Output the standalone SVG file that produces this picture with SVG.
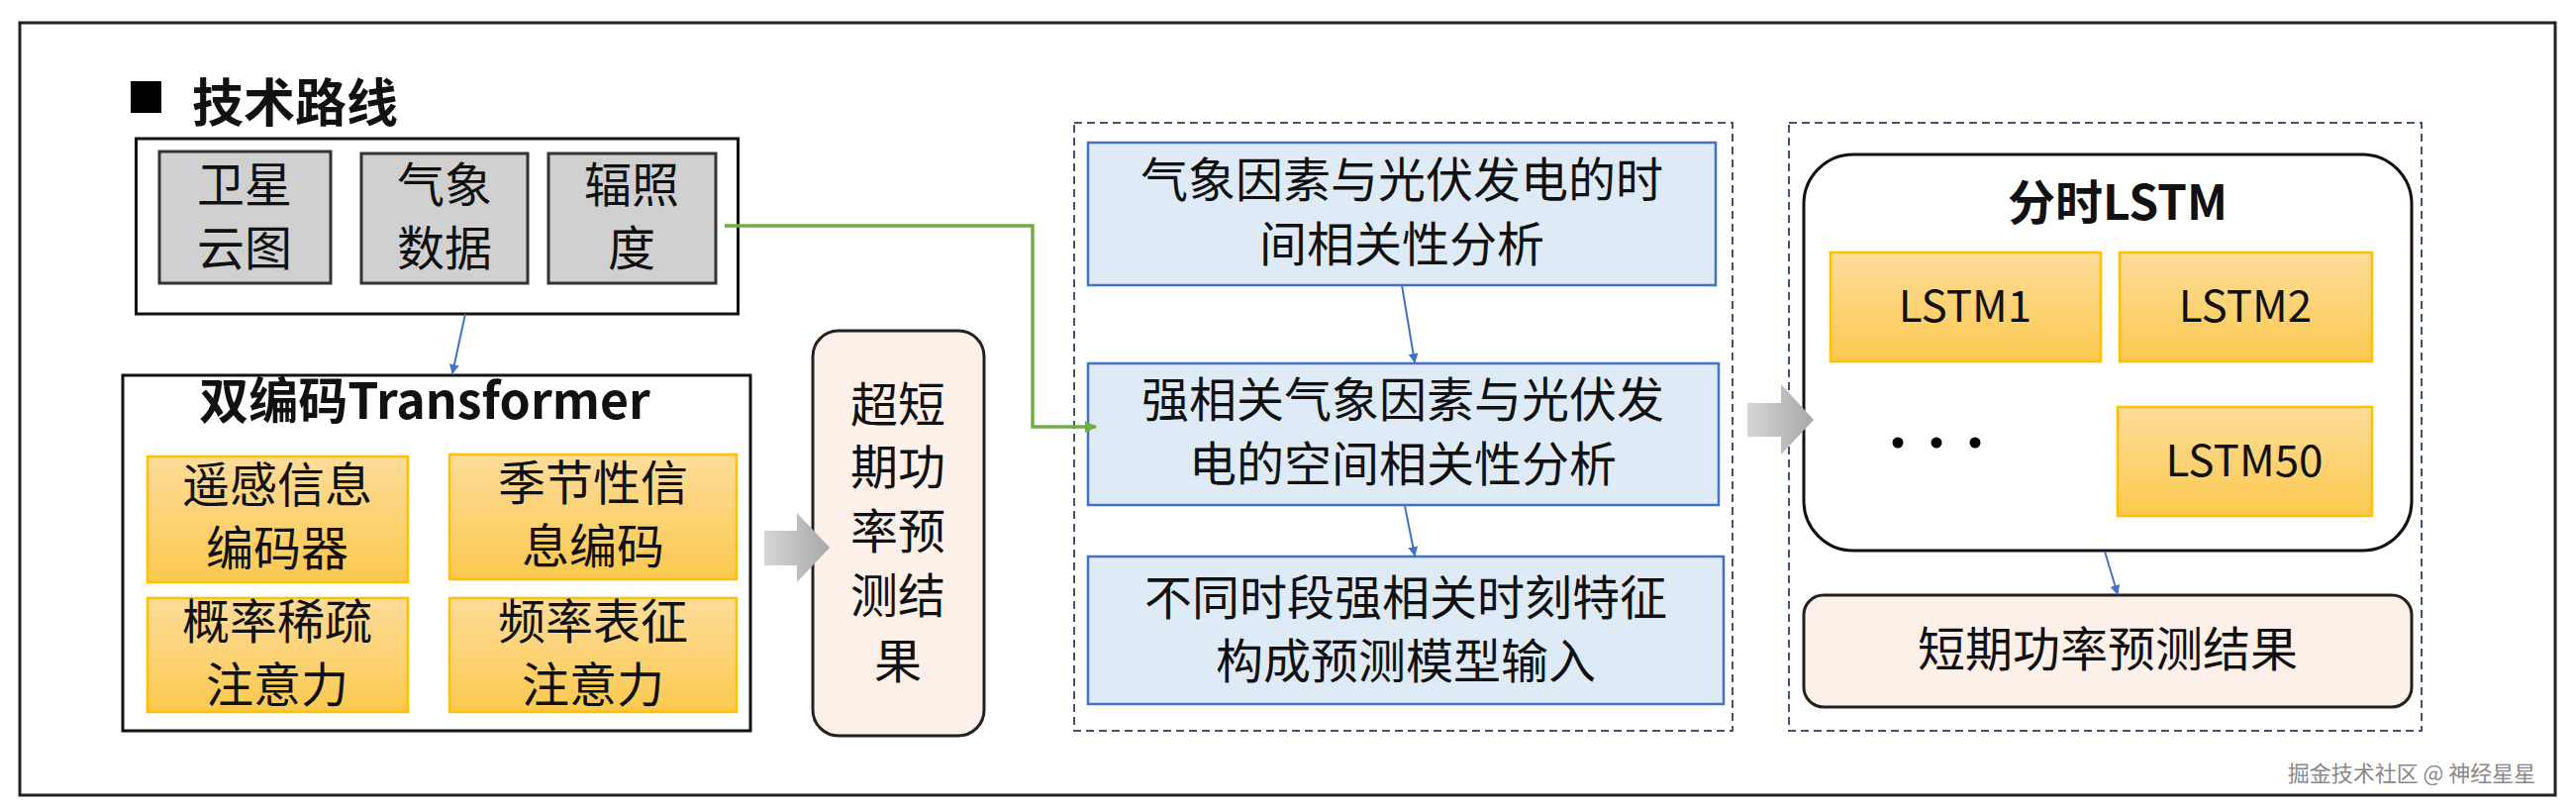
<svg xmlns="http://www.w3.org/2000/svg" width="2602" height="818" viewBox="0 0 2602 818">
<defs>
<linearGradient id="og" x1="0" y1="0" x2="0" y2="1"><stop offset="0" stop-color="#fedc9a"/><stop offset="1" stop-color="#fbc94f"/></linearGradient>
<linearGradient id="ga" x1="0" y1="0" x2="1" y2="0"><stop offset="0" stop-color="#d6d6d6"/><stop offset="1" stop-color="#a8a8a8"/></linearGradient>
<marker id="ab" markerWidth="10" markerHeight="10" refX="9" refY="5" orient="auto" markerUnits="userSpaceOnUse"><path d="M0,0 L10,5 L0,10 Z" fill="#4472c4"/></marker>
<marker id="ag" markerWidth="12" markerHeight="12" refX="11" refY="6" orient="auto" markerUnits="userSpaceOnUse"><path d="M0,0 L12,6 L0,12 Z" fill="#70ad47"/></marker>
</defs>
<style>
text{font-family:"Noto Sans CJK SC","Noto Sans",sans-serif;fill:#111;text-anchor:middle}
.t{font-size:48px}
.b{font-weight:bold}
.gray{fill:#d0d0d0;stroke:#333;stroke-width:3}
.org{fill:url(#og);stroke:#ffc000;stroke-width:2.5}
.blu{fill:#deebf7;stroke:#4472c4;stroke-width:2.5}
.pch{fill:#fdf0e8;stroke:#222;stroke-width:3}
.dash{fill:none;stroke:#44546a;stroke-width:2;stroke-dasharray:8,5}
.wb{fill:#fff;stroke:#111;stroke-width:3}
</style>
<rect x="0" y="0" width="2602" height="818" fill="#fff"/>
<rect x="20" y="23" width="2561" height="780" fill="#fff" stroke="#222" stroke-width="3"/>
<g id="title"><rect x="132" y="82" width="31" height="32" fill="#000"/><text x="298" y="123" class="b" style="font-size:52px">技术路线</text></g>
<g id="inputs">
<rect x="137.5" y="140" width="608" height="177" class="wb"/>
<g id="n-wx"><rect x="161" y="153" width="173" height="133" class="gray"/><text x="247" y="204" class="t">卫星</text><text x="247" y="268" class="t">云图</text></g>
<g id="n-qx"><rect x="365" y="155" width="168" height="131" class="gray"/><text x="449" y="204" class="t">气象</text><text x="449" y="268" class="t">数据</text></g>
<g id="n-fz"><rect x="554" y="155" width="169" height="131" class="gray"/><text x="638" y="204" class="t">辐照</text><text x="638" y="268" class="t">度</text></g>
</g>
<g id="transformer">
<rect x="124" y="379" width="634" height="359" class="wb"/>
<text x="429" y="423" class="b" style="font-size:50px">双编码Transformer</text>
<g id="n-yg"><rect x="149" y="461" width="263" height="127" class="org"/><text x="280" y="507" class="t">遥感信息</text><text x="280" y="571" class="t">编码器</text></g>
<g id="n-jj"><rect x="454" y="459" width="290" height="126" class="org"/><text x="599" y="505" class="t">季节性信</text><text x="599" y="569" class="t">息编码</text></g>
<g id="n-gl"><rect x="149" y="604" width="263" height="115" class="org"/><text x="280" y="645" class="t">概率稀疏</text><text x="280" y="709" class="t">注意力</text></g>
<g id="n-pl"><rect x="454" y="604" width="290" height="115" class="org"/><text x="599" y="645" class="t">频率表征</text><text x="599" y="709" class="t">注意力</text></g>
</g>
<g id="n-cd"><rect x="821" y="334" width="173" height="409" rx="26" class="pch"/>
<text x="907" y="426" class="t">超短</text><text x="907" y="489" class="t">期功</text><text x="907" y="554" class="t">率预</text><text x="907" y="619" class="t">测结</text><text x="907" y="685" class="t">果</text></g>
<g id="mid">
<rect x="1085" y="124" width="665" height="614" class="dash"/>
<g id="n-b1"><rect x="1099" y="144" width="634" height="144" class="blu"/><text x="1416" y="199" class="t">气象因素与光伏发电的时</text><text x="1416" y="264" class="t">间相关性分析</text></g>
<g id="n-b2"><rect x="1099" y="367" width="637" height="143" class="blu"/><text x="1417" y="421" class="t">强相关气象因素与光伏发</text><text x="1417" y="486" class="t">电的空间相关性分析</text></g>
<g id="n-b3"><rect x="1099" y="562" width="642" height="149" class="blu"/><text x="1420" y="621" class="t">不同时段强相关时刻特征</text><text x="1420" y="685" class="t">构成预测模型输入</text></g>
</g>
<g id="right">
<rect x="1807" y="124" width="639" height="614" class="dash"/>
<g id="n-lstm"><rect x="1822" y="156" width="614" height="400" rx="50" class="wb"/>
<text x="2139" y="222" class="b" style="font-size:48px">分时LSTM</text>
<rect x="1849" y="255" width="273" height="110" class="org"/><text x="1985" y="325" style="font-size:44px">LSTM1</text>
<rect x="2141" y="255" width="255" height="110" class="org"/><text x="2268" y="325" style="font-size:44px">LSTM2</text>
<rect x="2139" y="411" width="257" height="110" class="org"/><text x="2267" y="481" style="font-size:44px">LSTM50</text>
<circle cx="1917" cy="447" r="5.5" fill="#000"/><circle cx="1956" cy="447" r="5.5" fill="#000"/><circle cx="1995" cy="447" r="5.5" fill="#000"/>
</g>
<g id="n-res"><rect x="1822" y="601" width="614" height="113" rx="20" class="pch"/><text x="2129" y="673" class="t">短期功率预测结果</text></g>
</g>
<g id="connectors" fill="none">
<line x1="470" y1="317" x2="457" y2="377" stroke="#4472c4" stroke-width="2" marker-end="url(#ab)"/>
<polyline points="732,228 1043,228 1043,431 1107,431" stroke="#70ad47" stroke-width="3.5" marker-end="url(#ag)"/>
<line x1="1416" y1="288" x2="1429" y2="366" stroke="#4472c4" stroke-width="2" marker-end="url(#ab)"/>
<line x1="1419" y1="511" x2="1429" y2="561" stroke="#4472c4" stroke-width="2" marker-end="url(#ab)"/>
<line x1="2126" y1="557" x2="2139" y2="600" stroke="#4472c4" stroke-width="2" marker-end="url(#ab)"/>
<path d="M772,536 L805,536 L805,518 L838,553 L805,588 L805,571 L772,571 Z" fill="url(#ga)"/>
<path d="M1765,407 L1799,407 L1799,388 L1832,424 L1799,459 L1799,441 L1765,441 Z" fill="url(#ga)"/>
</g>
<text x="2436" y="789" style="font-size:22px;fill:#888">掘金技术社区 @ 神经星星</text>
</svg>
